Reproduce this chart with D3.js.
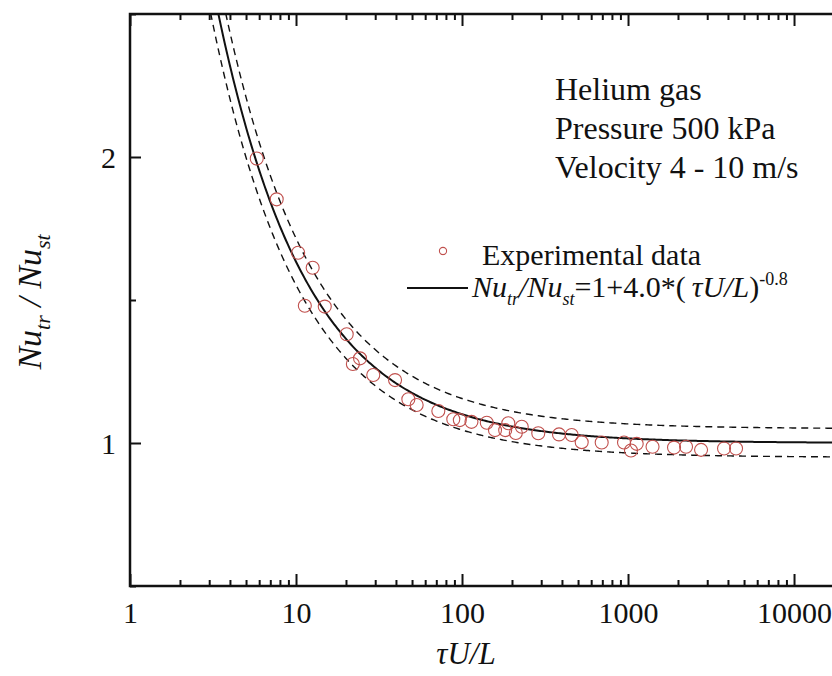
<!DOCTYPE html>
<html>
<head>
<meta charset="utf-8">
<script src="https://cdn.jsdelivr.net/npm/d3@7"></script>
<style>
  html, body { margin: 0; padding: 0; background: #fff; }
  svg { display: block; }
  text { font-family: "Liberation Serif", "Times New Roman", serif; fill: #111; }
</style>
</head>
<body>
<svg id="chart" width="832" height="676"></svg>
<script>
// Experimental points: tau*U/L and the measured Nu_tr / Nu_st ratio
const tauUL = [5.80, 7.65, 10.3, 12.6, 11.3, 14.9, 20.2, 24.3, 22.0, 29.2,
               39.5, 47.5, 53.3, 72, 88.6, 97, 114, 141, 158, 182,
               190, 211, 229, 288, 384, 458, 526, 694, 946, 1128,
               1042, 1405, 1893, 2236, 2754, 3788, 4474];
const nuRatio = [1.995, 1.852, 1.665, 1.613, 1.480, 1.477, 1.380, 1.296, 1.276, 1.238,
                 1.220, 1.153, 1.133, 1.112, 1.083, 1.080, 1.074, 1.071, 1.045, 1.045,
                 1.069, 1.035, 1.057, 1.034, 1.030, 1.028, 1.003, 1.002, 1.002, 0.997,
                 0.974, 0.987, 0.984, 0.987, 0.976, 0.981, 0.981];

// Correlation Nu_tr/Nu_st = 1 + A*(tau U/L)^B with a +/- band
const fitA = 4.0;
const fitB = -0.8;
const bandFrac = 0.05;

// Axis ticks
const xMajorTicks = [1, 10, 100, 1000, 10000];
const yMajorTicks = [1, 2];
const yMinorTicks = [0.5, 1.5, 2.5];
const infoLines = ["Helium gas", "Pressure 500 kPa", "Velocity 4 - 10 m/s"];

const svg = d3.select("#chart");
const plotL = 130, plotR = 844, plotT = 14, plotB = 586;

const x = d3.scaleLog().domain([1, 20000]).range([plotL, plotR]);
const y = d3.scaleLinear().domain([0.5, 2.5]).range([plotB, plotT]);

const xMinorTicks = [];
for (let d = 1; d <= 10000; d *= 10) {
  for (let k = 2; k <= 9; k++) if (d * k <= 20000) xMinorTicks.push(d * k);
}

// clip for curves
svg.append("defs").append("clipPath").attr("id", "plotClip")
  .append("rect").attr("x", plotL).attr("y", plotT)
  .attr("width", plotR - plotL).attr("height", plotB - plotT);

// Fitted curve and band
const xs = d3.range(0, 4.31, 0.01).map(e => Math.pow(10, e));
const fit = v => 1 + fitA * Math.pow(v, fitB);
const line = d3.line().x(d => x(d[0])).y(d => y(d[1]));
const curves = svg.append("g").attr("clip-path", "url(#plotClip)");
curves.append("path")
  .attr("d", line(xs.map(v => [v, fit(v) * (1 + bandFrac)])))
  .attr("fill", "none").attr("stroke", "#111").attr("stroke-width", 1.4)
  .attr("stroke-dasharray", "7,5");
curves.append("path")
  .attr("d", line(xs.map(v => [v, fit(v) * (1 - bandFrac)])))
  .attr("fill", "none").attr("stroke", "#111").attr("stroke-width", 1.4)
  .attr("stroke-dasharray", "7,5");
curves.append("path")
  .attr("d", line(xs.map(v => [v, fit(v)])))
  .attr("fill", "none").attr("stroke", "#111").attr("stroke-width", 2);

// Experimental data markers
svg.append("g").selectAll("circle")
  .data(tauUL.map((v, i) => [v, nuRatio[i]]))
  .join("circle")
  .attr("cx", d => x(d[0])).attr("cy", d => y(d[1]))
  .attr("r", 6.5).attr("fill", "none")
  .attr("stroke", "#c0504d").attr("stroke-width", 1.1);

// Axes with inward ticks
const fmt = d3.format("d");
const gB = svg.append("g").attr("transform", `translate(0,${plotB})`)
  .call(d3.axisBottom(x).tickValues(xMajorTicks).tickFormat(fmt).tickSizeInner(-12).tickSizeOuter(0));
gB.selectAll("text").attr("y", 37).attr("dy", 0).style("font-size", "30px");
svg.append("g").attr("transform", `translate(0,${plotB})`)
  .call(d3.axisBottom(x).tickValues(xMinorTicks).tickFormat("").tickSizeInner(-6).tickSizeOuter(0));

svg.append("g").attr("transform", `translate(0,${plotT})`)
  .call(d3.axisTop(x).tickValues(xMajorTicks).tickFormat("").tickSizeInner(-12).tickSizeOuter(0));
svg.append("g").attr("transform", `translate(0,${plotT})`)
  .call(d3.axisTop(x).tickValues(xMinorTicks).tickFormat("").tickSizeInner(-6).tickSizeOuter(0));

const gL = svg.append("g").attr("transform", `translate(${plotL},0)`)
  .call(d3.axisLeft(y).tickValues(yMajorTicks).tickFormat(fmt).tickSizeInner(-11).tickSizeOuter(0));
gL.selectAll("text").attr("x", -14).attr("dy", "0.34em").style("font-size", "30px");
svg.append("g").attr("transform", `translate(${plotL},0)`)
  .call(d3.axisLeft(y).tickValues(yMinorTicks).tickFormat("").tickSizeInner(-6).tickSizeOuter(0));

svg.append("g").attr("transform", `translate(${plotR},0)`)
  .call(d3.axisRight(y).tickValues(yMajorTicks).tickFormat("").tickSizeInner(-11).tickSizeOuter(0));
svg.append("g").attr("transform", `translate(${plotR},0)`)
  .call(d3.axisRight(y).tickValues(yMinorTicks).tickFormat("").tickSizeInner(-6).tickSizeOuter(0));

svg.selectAll(".domain").remove();
svg.selectAll(".tick line").attr("stroke", "#111").attr("stroke-width", 2);

// Frame
svg.append("rect").attr("x", plotL).attr("y", plotT)
  .attr("width", plotR - plotL).attr("height", plotB - plotT)
  .attr("fill", "none").attr("stroke", "#111").attr("stroke-width", 2.5);

// Axis titles
svg.append("text").attr("x", 466).attr("y", 664)
  .attr("text-anchor", "middle").style("font-size", "31px").style("font-style", "italic")
  .text("\u03C4U/L");

const yt = svg.append("text")
  .attr("transform", "translate(41,302) rotate(-90)")
  .attr("text-anchor", "middle").style("font-size", "34px").style("font-style", "italic");
yt.append("tspan").text("Nu");
yt.append("tspan").attr("dy", 9).style("font-size", "22px").text("tr");
yt.append("tspan").attr("dy", -9).text(" / Nu");
yt.append("tspan").attr("dy", 9).style("font-size", "22px").text("st");

// Conditions text
svg.append("g").selectAll("text").data(infoLines).join("text")
  .attr("x", 555).attr("y", (d, i) => 100 + i * 39)
  .style("font-size", "32px").text(d => d);

// Legend
svg.append("circle").attr("cx", 443).attr("cy", 251).attr("r", 3.6)
  .attr("fill", "none").attr("stroke", "#c0504d").attr("stroke-width", 1.1);
svg.append("text").attr("x", 482).attr("y", 265).style("font-size", "30px").text("Experimental data");
svg.append("line").attr("x1", 407).attr("x2", 468).attr("y1", 288).attr("y2", 288)
  .attr("stroke", "#111").attr("stroke-width", 2);
const lt = svg.append("text").attr("x", 472).attr("y", 297).style("font-size", "30px");
lt.append("tspan").style("font-style", "italic").text("Nu");
lt.append("tspan").attr("dy", 8).style("font-size", "18px").style("font-style", "italic").text("tr");
lt.append("tspan").attr("dy", -8).style("font-style", "italic").text("/Nu");
lt.append("tspan").attr("dy", 8).style("font-size", "18px").style("font-style", "italic").text("st");
lt.append("tspan").attr("dy", -8).text("=1+4.0*(\u2009");
lt.append("tspan").style("font-style", "italic").text("\u03C4U/L");
lt.append("tspan").text(")");
lt.append("tspan").attr("dy", -12).style("font-size", "18px").text("-0.8");
</script>
</body>
</html>
